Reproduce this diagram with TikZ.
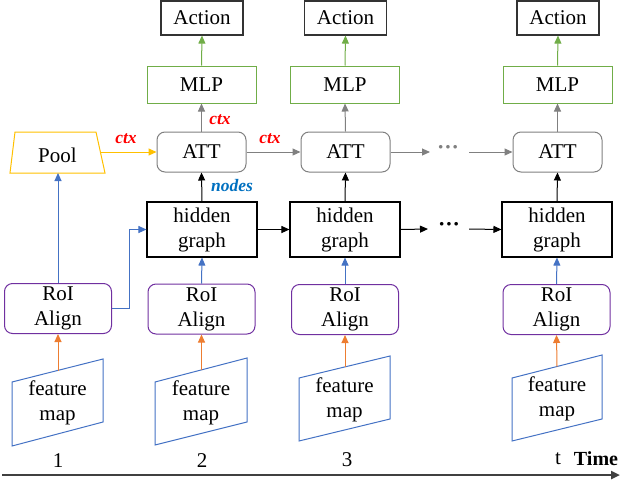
\documentclass[tikz,border=0pt]{standalone}
\usepackage{fontspec}
\setmainfont{Liberation Serif}
\usetikzlibrary{arrows.meta}
\definecolor{cblue}{HTML}{4472C4}
\definecolor{corange}{HTML}{ED7D31}
\definecolor{cgreen}{HTML}{70AD47}
\definecolor{cgold}{HTML}{FFC000}
\definecolor{cpurple}{HTML}{7030A0}
\definecolor{cgray}{HTML}{808080}
\definecolor{cnodes}{HTML}{0070C0}
\definecolor{caxis}{HTML}{404040}
\begin{document}
\begin{tikzpicture}[x=1pt,y=-1pt,
  font=\fontsize{21}{25}\selectfont,
  >={Triangle[length=8pt,width=7pt]},
  box/.style={draw, line width=1pt, inner sep=0pt, align=center},
  actbox/.style={box, draw=black!80, line width=1.1pt, minimum width=82pt, minimum height=34pt},
  mlpbox/.style={box, draw=cgreen, minimum width=109pt, minimum height=37pt},
  attbox/.style={box, draw=cgray, rounded corners=8pt, minimum width=89pt, minimum height=40pt},
  hgbox/.style={box, draw=black, line width=1.1pt, minimum width=110pt, minimum height=55pt},
  roibox/.style={box, draw=cpurple, rounded corners=8pt, minimum width=107pt, minimum height=50pt},
  fmline/.style={draw=cblue, line width=1pt},
  lbl/.style={inner sep=0pt, align=center},
  tag/.style={inner sep=0pt, font=\fontsize{17.5}{20}\selectfont\bfseries\itshape},
  conn/.style={->, line width=1pt}
]
\useasboundingbox (0,0) rectangle (620,482);

% Action
\node[actbox] (act2) at (202,18) {Action};
\node[actbox] (act3) at (345.5,18) {Action};
\node[actbox] (act4) at (558,18) {Action};
% MLP
\node[mlpbox] (mlp2) at (201.5,84.5) {MLP};
\node[mlpbox] (mlp3) at (345,84.5) {MLP};
\node[mlpbox] (mlp4) at (557.5,84.5) {MLP};
% ATT
\node[attbox] (att2) at (201.5,152) {ATT};
\node[attbox] (att3) at (345.5,152) {ATT};
\node[attbox] (att4) at (557.5,152) {ATT};
% hidden graph
\node[hgbox] (hg2) at (202,229.5) {hidden\\graph};
\node[hgbox] (hg3) at (345,229.5) {hidden\\graph};
\node[hgbox] (hg4) at (557,229.5) {hidden\\graph};
% RoI
\node[roibox] (roi1) at (58,308.5) {RoI\\Align};
\node[roibox] (roi2) at (201.5,309) {RoI\\Align};
\node[roibox] (roi3) at (345,309.5) {RoI\\Align};
\node[roibox] (roi4) at (556.5,309.5) {RoI\\Align};

% Pool
\draw[draw=cgold, line width=1pt] (15,132) -- (96,132) -- (105,173) -- (10,173) -- cycle;
\node[lbl] (pool) at (57.5,155) {Pool};
\coordinate (poolR) at (100.5,152);
\coordinate (poolB) at (58,173);

% feature maps
\draw[fmline] (12,382) -- (103,359) -- (103,422) -- (12,446) -- cycle;
\draw[fmline] (155,382) -- (247,358) -- (247,422) -- (155,445) -- cycle;
\draw[fmline] (299,378) -- (390,356) -- (390,419) -- (299,441) -- cycle;
\draw[fmline] (512,378) -- (602,355) -- (602,419) -- (512,441) -- cycle;
\node[lbl] (fm1) at (57.5,403) {feature\\map};
\node[lbl] (fm2) at (201,403) {feature\\map};
\node[lbl] (fm3) at (344.5,399.5) {feature\\map};
\node[lbl] (fm4) at (557,399) {feature\\map};
\coordinate (fm1t) at (58,370.5);
\coordinate (fm2t) at (201.5,370);
\coordinate (fm3t) at (345,367);
\coordinate (fm4t) at (557,366.5);

% orange arrows
\draw[conn, corange] (fm1t) -- (roi1.south);
\draw[conn, corange] (fm2t) -- (roi2.south);
\draw[conn, corange] (fm3t) -- (roi3.south);
\draw[conn, corange] (fm4t) -- (roi4.south);

% blue arrows
\draw[conn, cblue] (roi1.north) -- (poolB);
\draw[conn, cblue] (roi1.east) -- (129,308.5) |- (hg2.west);
\draw[conn, cblue] (roi2.north) -- (hg2.south);
\draw[conn, cblue] (roi3.north) -- (hg3.south);
\draw[conn, cblue] (roi4.north) -- (hg4.south);

% hidden graph chain
\coordinate (hgd1) at (428,229);
\coordinate (hgd2) at (469,229);
\node[lbl, font=\fontsize{22}{25}\selectfont\bfseries] (hgdots) at (449,227) {···};
\draw[conn, black] (hg2.east) -- (hg3.west);
\draw[conn, black] (hg3.east) -- (hgd1);
\draw[conn, black] (hgd2) -- (hg4.west);

% hg -> att
\draw[conn, black] (hg2.north) -- (att2.south);
\draw[conn, black] (hg3.north) -- (att3.south);
\draw[conn, black] (hg4.north) -- (att4.south);

% att chain
\draw[conn, cgold] (poolR) -- (att2.west);
\coordinate (attd1) at (430,152);
\coordinate (attd2) at (469,152);
\node[lbl, text=cgray, font=\fontsize{22}{25}\selectfont\bfseries] (attdots) at (448,150) {···};
\draw[conn, cgray] (att2.east) -- (att3.west);
\draw[conn, cgray] (att3.east) -- (attd1);
\draw[conn, cgray] (attd2) -- (att4.west);

% att -> mlp
\draw[conn, cgray] (att2.north) -- (mlp2.south);
\draw[conn, cgray] (att3.north) -- (mlp3.south);
\draw[conn, cgray] (att4.north) -- (mlp4.south);

% mlp -> action
\draw[conn, cgreen] (mlp2.north) -- (act2.south);
\draw[conn, cgreen] (mlp3.north) -- (act3.south);
\draw[conn, cgreen] (mlp4.north) -- (act4.south);

% tags
\node[tag, text=red] (ctx1) at (126,139) {ctx};
\node[tag, text=red] (ctx2) at (270,139) {ctx};
\node[tag, text=red] (ctx3) at (220,120) {ctx};
\node[tag, text=cnodes] (nodestag) at (232,186) {nodes};

% time axis
\coordinate (ax0) at (2,475);
\coordinate (ax1) at (620,475);
\draw[->, >={Triangle[length=9pt,width=8pt]}, draw=caxis, line width=2.4pt] (ax0) -- (ax1);
\node[lbl] (n1) at (58,461) {1};
\node[lbl] (n2) at (202,461) {2};
\node[lbl] (n3) at (347,460) {3};
\node[lbl] (nt) at (558,459) {t};
\node[lbl, font=\fontsize{20}{24}\selectfont\bfseries] (ntime) at (596,459) {Time};
\end{tikzpicture}
\end{document}
